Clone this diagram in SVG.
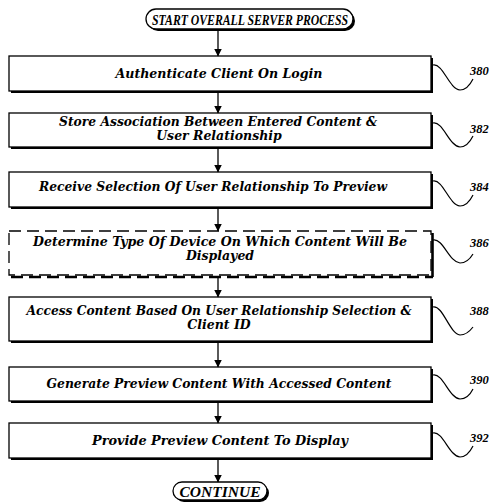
<svg xmlns="http://www.w3.org/2000/svg" width="494" height="503" viewBox="0 0 494 503">
<style>
.box{fill:#fff;stroke:#000;stroke-width:1.3}
.sh{fill:#000}
.t{font-family:"DejaVu Serif","Liberation Serif",serif;font-weight:bold;font-style:italic;font-size:12.5px;fill:#000;text-anchor:middle}
.term{font-family:"Liberation Serif",serif;font-weight:bold;font-style:italic;font-size:15.5px;fill:#000;text-anchor:middle}
.ref{font-family:"Liberation Serif",serif;font-weight:bold;font-style:italic;font-size:12.5px;fill:#000}
.sq{fill:none;stroke:#000;stroke-width:1.2}
.conn{stroke:#000;stroke-width:1.3;fill:none;marker-end:url(#ah)}
</style>
<defs>
<marker id="ah" markerWidth="8" markerHeight="10" refX="7.5" refY="4" orient="auto" markerUnits="userSpaceOnUse" viewBox="0 0 8 8">
<path d="M0,0 L8,4 L0,8 Z" fill="#000"/>
</marker>
</defs>
<rect width="494" height="503" fill="#fff"/>

<g id="start">
<rect class="sh" x="148" y="11" width="207" height="20" rx="10"/>
<rect class="box" x="146" y="9" width="207" height="20" rx="10"/>
<text class="term" x="250" y="25" textLength="196" lengthAdjust="spacingAndGlyphs">START OVERALL SERVER PROCESS</text>
</g>

<g id="n380">
<rect class="sh" x="11" y="58" width="422" height="35"/>
<rect class="box" x="9" y="56" width="422" height="35"/>
<text class="t" x="219" y="78" textLength="207" lengthAdjust="spacingAndGlyphs">Authenticate Client On Login</text>
<path class="sq" d="M433,65 C443,63 449,89 460,90 C466,90 470,85 473,79"/>
<text class="ref" x="470" y="75">380</text>
</g>

<g id="n382">
<rect class="sh" x="11" y="115" width="422" height="34"/>
<rect class="box" x="9" y="113" width="422" height="34"/>
<text class="t" x="218" y="126" textLength="318" lengthAdjust="spacingAndGlyphs">Store Association Between Entered Content &amp;</text>
<text class="t" x="219" y="140">User Relationship</text>
<path class="sq" d="M433,123 C443,121 449,146 460,147 C466,147 470,142 473,136"/>
<text class="ref" x="470" y="133">382</text>
</g>

<g id="n384">
<rect class="sh" x="11" y="174" width="422" height="35"/>
<rect class="box" x="9" y="172" width="422" height="35"/>
<text class="t" x="213" y="191" textLength="348" lengthAdjust="spacingAndGlyphs">Receive Selection Of User Relationship To Preview</text>
<path class="sq" d="M433,181 C443,179 449,205 460,206 C466,206 470,201 473,195"/>
<text class="ref" x="470" y="191">384</text>
</g>

<g id="n386">
<path d="M11,277 H433" stroke="#000" stroke-width="2.6" stroke-dasharray="12,6" fill="none"/>
<path d="M432.5,233 V277" stroke="#000" stroke-width="2.6" fill="none"/>
<rect x="9" y="231" width="422" height="44" fill="#fff" stroke="#000" stroke-width="1.3" stroke-dasharray="12,6"/>
<text class="t" x="220" y="246" textLength="374" lengthAdjust="spacingAndGlyphs">Determine Type Of Device On Which Content Will Be</text>
<text class="t" x="220" y="260">Displayed</text>
<path class="sq" d="M433,240 C443,238 449,262 460,263 C466,263 470,259 473,254"/>
<text class="ref" x="470" y="247">386</text>
</g>

<g id="n388">
<rect class="sh" x="11" y="299" width="422" height="44"/>
<rect class="box" x="9" y="297" width="422" height="44"/>
<text class="t" x="219" y="315" textLength="385" lengthAdjust="spacingAndGlyphs">Access Content Based On User Relationship Selection &amp;</text>
<text class="t" x="219" y="329">Client ID</text>
<path class="sq" d="M433,307 C443,305 449,333 460,335 C466,335 470,331 473,327"/>
<text class="ref" x="470" y="315">388</text>
</g>

<g id="n390">
<rect class="sh" x="11" y="369" width="422" height="34"/>
<rect class="box" x="9" y="367" width="422" height="34"/>
<text class="t" x="219" y="388" textLength="345" lengthAdjust="spacingAndGlyphs">Generate Preview Content With Accessed Content</text>
<path class="sq" d="M433,375 C443,373 449,398 460,399 C466,399 470,395 473,389"/>
<text class="ref" x="470" y="384">390</text>
</g>

<g id="n392">
<rect class="sh" x="11" y="425" width="422" height="35"/>
<rect class="box" x="9" y="423" width="422" height="35"/>
<text class="t" x="220" y="445" textLength="256" lengthAdjust="spacingAndGlyphs">Provide Preview Content To Display</text>
<path class="sq" d="M433,433 C443,431 449,456 460,457 C466,457 470,452 473,446"/>
<text class="ref" x="470" y="442">392</text>
</g>

<g id="continue">
<rect class="sh" x="175" y="484" width="94" height="18" rx="9"/>
<rect class="box" x="173" y="482" width="94" height="18" rx="9"/>
<text class="term" x="220" y="497" textLength="81" lengthAdjust="spacingAndGlyphs">CONTINUE</text>
</g>

<g id="connectors">
<path class="conn" d="M218,31 V56"/>
<path class="conn" d="M218,93 V113"/>
<path class="conn" d="M218,149 V172"/>
<path class="conn" d="M218,209 V231"/>
<path class="conn" d="M218,277 V297"/>
<path class="conn" d="M218,343 V367"/>
<path class="conn" d="M218,403 V423"/>
<path class="conn" d="M218,460 V482"/>
</g>
</svg>
